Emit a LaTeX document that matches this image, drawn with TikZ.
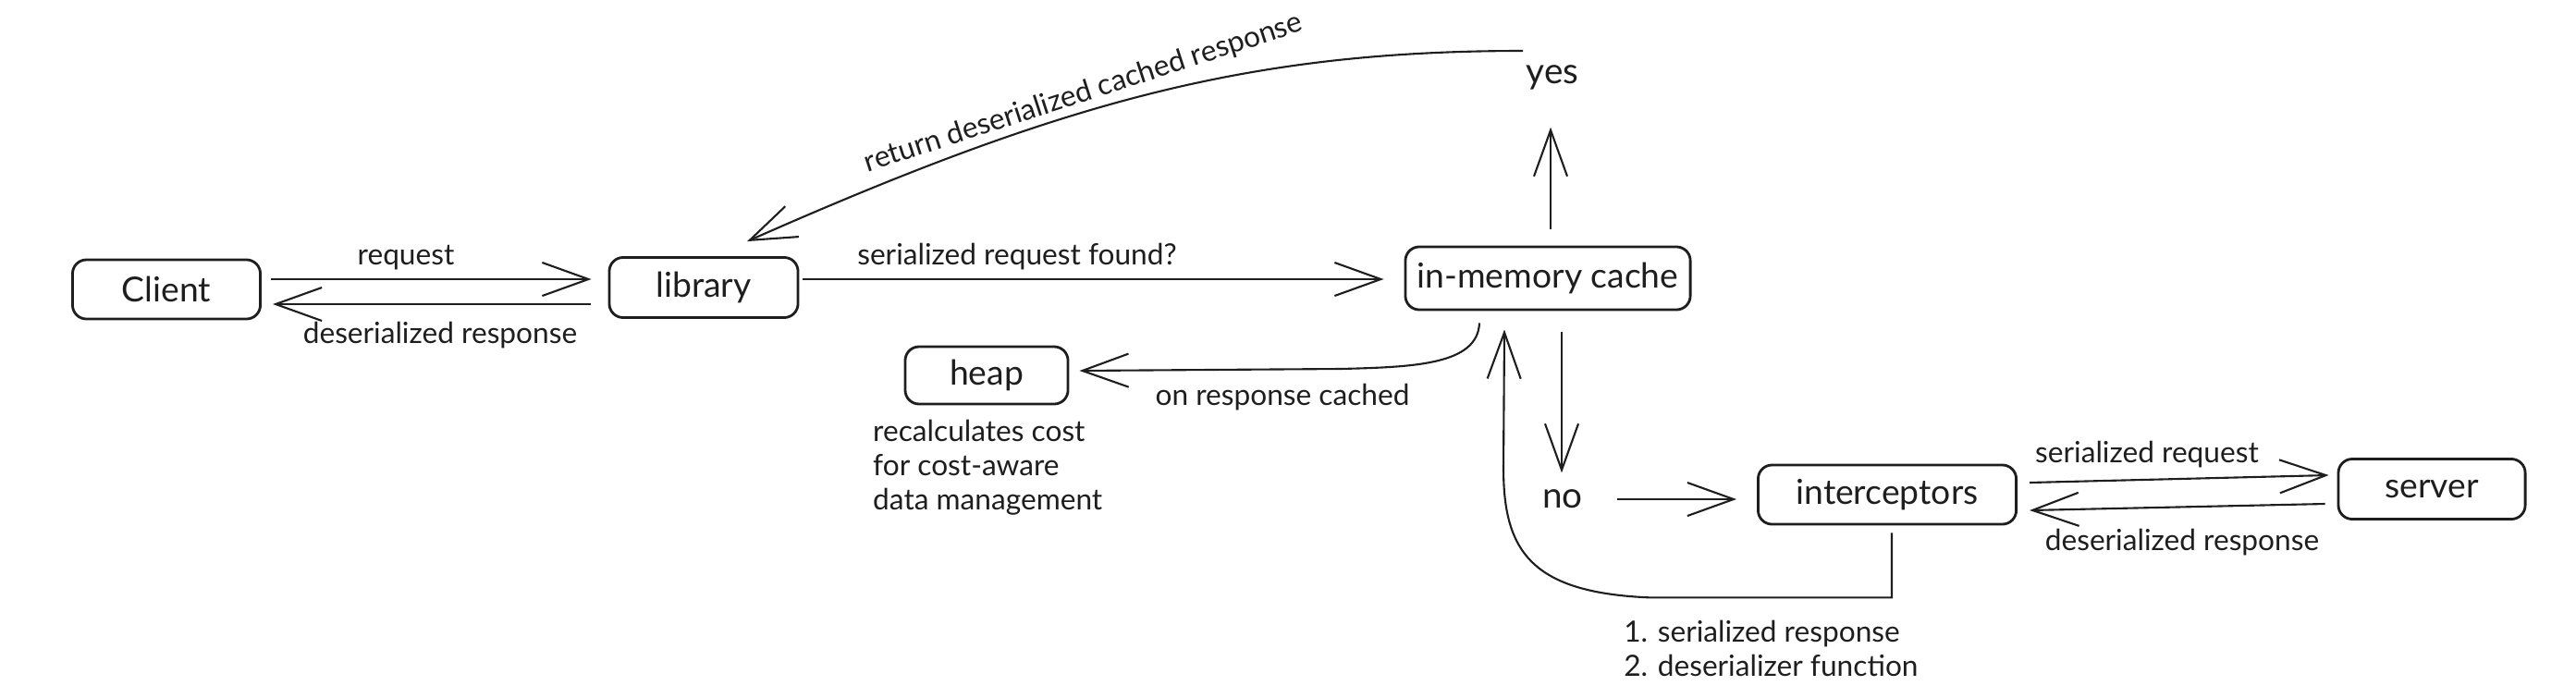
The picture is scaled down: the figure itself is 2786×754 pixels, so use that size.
\documentclass[tikz,border=0pt]{standalone}
\usepackage{fontspec}
\setmainfont{Lato}
\usetikzlibrary{arrows.meta,calc}
\definecolor{ink}{HTML}{1E1E1E}
\newcommand{\boxfont}{\fontsize{10.6}{13}\selectfont}
\newcommand{\lblfont}{\fontsize{9}{10.5}\selectfont}
\tikzset{
  box/.style={draw=ink, line width=0.8pt, rounded corners=1.5mm, inner sep=0pt, text=ink, font=\boxfont},
  lbl/.style={text=ink, font=\lblfont, inner sep=1pt},
  arr/.style={draw=ink, line width=0.6pt, -{Straight Barb[length=5mm,width=3.6mm]}},
}
\begin{document}
\begin{tikzpicture}[x=0.01cm, y=-0.01cm]
\useasboundingbox (0,0) rectangle (2786,754);
% boxes
\node[box, minimum width=2.03cm, minimum height=0.64cm] (client) at (180,313) {Client};
\node[box, minimum width=2.04cm, minimum height=0.65cm] (library) at (761,311) {library};
\node[box, minimum width=3.08cm, minimum height=0.68cm] (cache) at (1674,301) {in-memory cache};
\node[box, minimum width=1.76cm, minimum height=0.62cm] (heap) at (1067,406) {heap};
\node[box, minimum width=2.79cm, minimum height=0.64cm] (inter) at (2041,535) {interceptors};
\node[box, minimum width=2.02cm, minimum height=0.65cm] (server) at (2630,529) {server};
% cache hit / miss
\node[lbl, font=\fontsize{11}{13}\selectfont] (yes) at (1679,84) {yes};
\node[lbl, font=\fontsize{11}{13}\selectfont] (no) at (1690,540) {no};
\coordinate (ret) at (1647,55);

% client <-> library
\draw[arr] ($(client.east)+(10,-11)$) -- ($(library.west)+(-18,-9)$);
\draw[arr] ($(library.west)+(-19,18)$) -- ($(client.east)+(12,16)$);
\node[lbl] (lreq) at (439,279) {request};
\node[lbl] (lres) at (476,363) {deserialized response};

% library -> cache
\draw[arr] ($(library.east)+(4,-9)$) -- ($(cache.west)+(-22,1)$);
\node[lbl] (lfound) at (1100,278) {serialized request found?};

% hit
\draw[arr] ($(cache.north)+(3,-18)$) -- ++(0,-110);
\draw[arr] (ret) .. controls (1350,55) and (1150,110) .. ($(library.north)+(47,-16)$);
\node[lbl, rotate=18] (lhit) at (1172,101) {return deserialized cached response};

% heap
\draw[arr] ($(cache.south)+(-74,13)$) .. controls +(-2,45) and +(80,-2) .. (1450,399) -- ($(heap.east)+(11,-5)$);
\node[lbl] (lcached) at (1387,430) {on response cached};
\node[lbl, anchor=west, align=left] (lcost) at (940,506) {recalculates cost\\for cost-aware\\data management};

% miss
\draw[arr] ($(cache.south)+(15,23)$) -- ++(0,152);
\draw[arr] ($(no.east)+(33,0)$) -- ($(inter.west)+(-22,5)$);
\draw[arr] ($(inter.south)+(5,8)$) -- ++(0,70) -- ++(-260,0)
  .. controls +(-130,-5) and +(0,90) .. ++(-160,-140) -- ($(cache.south)+(-47,20)$);
\node[lbl, anchor=west, align=left] (lback) at (1752,701) {1. serialized response\\2. deserializer function};

% interceptors <-> server
\draw[arr] ($(inter.east)+(13,-13)$) -- ($(server.west)+(-9,-15)$);
\draw[arr] ($(server.west)+(-13,16)$) -- ($(inter.east)+(13,17)$);
\node[lbl] (lsreq) at (2322,492) {serialized request};
\node[lbl] (lsres) at (2360,587) {deserialized response};
\end{tikzpicture}
\end{document}
